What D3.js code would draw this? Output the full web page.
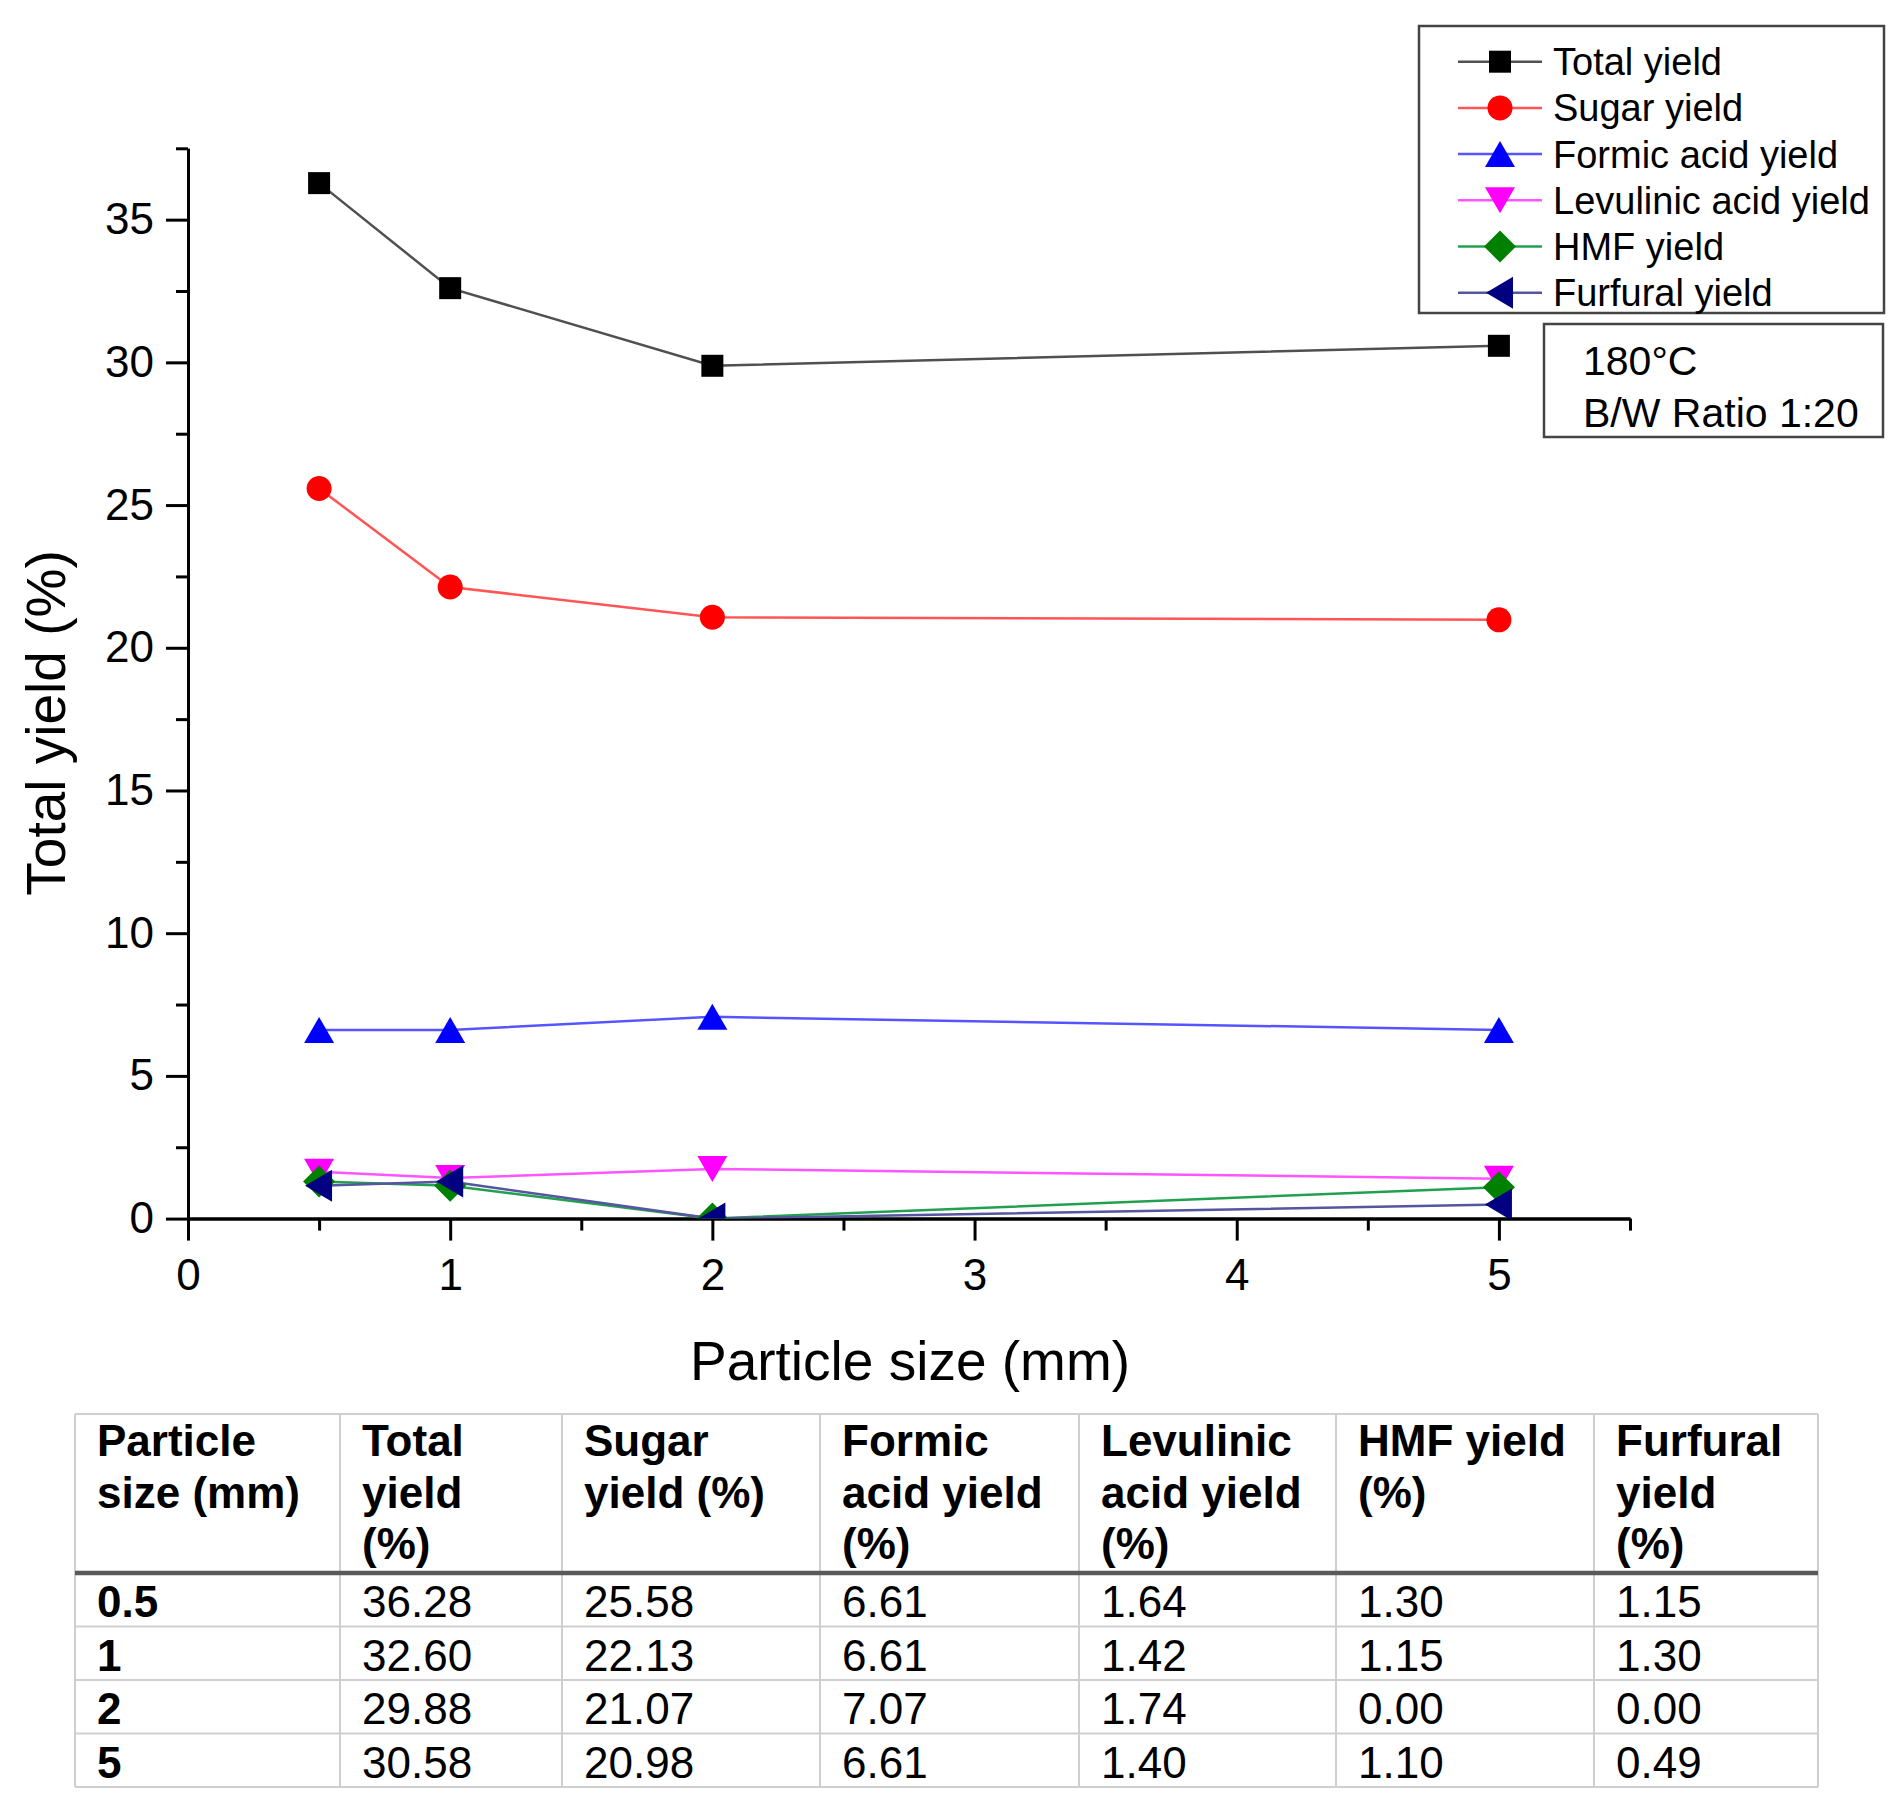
<!DOCTYPE html>
<html><head><meta charset="utf-8">
<script src="https://cdn.jsdelivr.net/npm/d3@7"></script>
<style>
body{margin:0;background:#fff}
svg{display:block}
text{font-family:"Liberation Sans",Arial,Helvetica,sans-serif;fill:#000}
</style>
</head><body>
<svg id="chart" width="1903" height="1816"></svg>
<script>
// ---------------- data ----------------
const particleSizes = [0.5, 1, 2, 5];
const totalYield     = [36.28, 32.60, 29.88, 30.58];
const sugarYield     = [25.58, 22.13, 21.07, 20.98];
const formicYield    = [6.61, 6.61, 7.07, 6.61];
const levulinicYield = [1.64, 1.42, 1.74, 1.40];
const hmfYield       = [1.30, 1.15, 0.00, 1.10];
const furfuralYield  = [1.15, 1.30, 0.00, 0.49];
const seriesNames = ["Total yield", "Sugar yield", "Formic acid yield", "Levulinic acid yield", "HMF yield", "Furfural yield"];
const xTickValues = [0, 1, 2, 3, 4, 5];
const yTickValues = [0, 5, 10, 15, 20, 25, 30, 35];
const xTitle = "Particle size (mm)";
const yTitle = "Total yield (%)";
const infoLines = ["180°C", "B/W Ratio 1:20"];
const tableHeaders = [
  ["Particle", "size (mm)"],
  ["Total", "yield", "(%)"],
  ["Sugar", "yield (%)"],
  ["Formic", "acid yield", "(%)"],
  ["Levulinic", "acid yield", "(%)"],
  ["HMF yield", "(%)"],
  ["Furfural", "yield", "(%)"]
];

// ---------------- styles ----------------
const seriesValues = [totalYield, sugarYield, formicYield, levulinicYield, hmfYield, furfuralYield];
const markerColors = ["#000000", "#ff0000", "#0000ff", "#ff00ff", "#008000", "#000080"];
const lineColors   = ["#505050", "#ff5555", "#5555ff", "#ff55ff", "#22a050", "#5555a0"];
const shapes = ["square", "circle", "up", "down", "diamond", "left"];

function shapePath(s) {
  switch (s) {
    case "square": return "M-11,-11H11V11H-11Z";
    case "circle": return d3.arc()({innerRadius:0, outerRadius:12.5, startAngle:0, endAngle:2*Math.PI});
    case "up": return "M0,-13L15,13L-15,13Z";
    case "down": return "M0,13L15,-13L-15,-13Z";
    case "diamond": return "M0,-16L16,0L0,16L-16,0Z";
    case "left": return "M-14,0L13,-16L13,16Z";
  }
}

const svg = d3.select("#chart");
const font = '"Liberation Sans",Arial,sans-serif';

// ---------------- scales ----------------
const x = d3.scaleLinear().domain([0, 5.5]).range([188, 1630]);
const y = d3.scaleLinear().domain([0, 37.5]).range([1218.6, 148.3]);

// clip
svg.append("defs").append("clipPath").attr("id", "plotclip")
  .append("rect").attr("x", x(0) - 40).attr("y", y(37.5) - 40)
  .attr("width", x(5.5) - x(0) + 80).attr("height", y(0) - y(37.5) + 40);

// ---------------- axes ----------------
const minorX = d3.range(0.5, 5.6, 1);
const minorY = d3.range(2.5, 37.6, 5);

const xMinorAxis = d3.axisBottom(x).tickValues(minorX).tickSize(12).tickSizeOuter(0).tickFormat("");
const xAxis = d3.axisBottom(x).tickValues(xTickValues).tickSize(22).tickSizeOuter(0).tickPadding(18).tickFormat(d3.format("d"));
const yMinorAxis = d3.axisLeft(y).tickValues(minorY).tickSize(12).tickSizeOuter(0).tickFormat("");
const yAxis = d3.axisLeft(y).tickValues(yTickValues).tickSize(22).tickSizeOuter(0).tickPadding(12).tickFormat(d3.format("d"));

function styleAxis(g) {
  g.selectAll("path.domain").attr("stroke", "#000").attr("stroke-width", 3);
  g.selectAll(".tick line").attr("stroke", "#000").attr("stroke-width", 3);
  g.selectAll(".tick text").attr("font-size", 44).attr("font-family", font).attr("fill", "#000");
}

svg.append("g").attr("transform", `translate(0,${y(0)})`).call(xMinorAxis).call(styleAxis);
svg.append("g").attr("transform", `translate(0,${y(0)})`).call(xAxis).call(styleAxis);
svg.append("g").attr("transform", `translate(${x(0)},0)`).call(yMinorAxis).call(styleAxis);
svg.append("g").attr("transform", `translate(${x(0)},0)`).call(yAxis).call(styleAxis);

// axis titles
svg.append("text").attr("x", 910).attr("y", 1380).attr("text-anchor", "middle")
  .attr("font-size", 55).text(xTitle);
svg.append("text").attr("transform", "translate(65,723) rotate(-90)").attr("text-anchor", "middle")
  .attr("font-size", 55).text(yTitle);

// ---------------- series ----------------
const plot = svg.append("g").attr("clip-path", "url(#plotclip)");
const line = d3.line().x((d, i) => x(particleSizes[i])).y(d => y(d));

seriesValues.forEach((vals, si) => {
  plot.append("path").datum(vals).attr("d", line)
    .attr("fill", "none").attr("stroke", lineColors[si]).attr("stroke-width", 2.5);
});
svg.select("defs").append("clipPath").attr("id", "markclip")
  .append("rect").attr("x", 0).attr("y", 0).attr("width", 1903).attr("height", y(0));
const clipMarkers = svg.append("g").attr("clip-path", "url(#markclip)");
seriesValues.forEach((vals, si) => {
  clipMarkers.selectAll(null).data(vals).enter().append("path")
    .attr("d", shapePath(shapes[si]))
    .attr("transform", (d, i) => `translate(${x(particleSizes[i])},${y(d)})`)
    .attr("fill", markerColors[si]);
});

// ---------------- legend ----------------
const legend = svg.append("g");
legend.append("rect").attr("x", 1419).attr("y", 26).attr("width", 465).attr("height", 287)
  .attr("fill", "#fff").attr("stroke", "#444").attr("stroke-width", 2.5);
seriesNames.forEach((name, i) => {
  const cy = 61.7 + i * 46.2;
  legend.append("line").attr("x1", 1458).attr("x2", 1542).attr("y1", cy).attr("y2", cy)
    .attr("stroke", lineColors[i]).attr("stroke-width", 2.5);
  legend.append("path").attr("d", shapePath(shapes[i])).attr("transform", `translate(1500,${cy})`)
    .attr("fill", markerColors[i]);
  legend.append("text").attr("x", 1553).attr("y", cy + 13.5).attr("font-size", 38).text(name);
});

// info box
svg.append("rect").attr("x", 1544).attr("y", 324).attr("width", 339).attr("height", 113)
  .attr("fill", "#fff").attr("stroke", "#444").attr("stroke-width", 2.5);
infoLines.forEach((t, i) => {
  svg.append("text").attr("x", 1583).attr("y", 375 + i * 52).attr("font-size", 41).text(t);
});

// ---------------- table ----------------
const colEdges = [75, 340, 562, 820, 1079, 1336, 1594, 1818];
const tableTop = 1414, headerBottom = 1573, rowH = 53.5;
const tableRows = particleSizes.map((p, i) => [String(p)].concat(seriesValues.map(v => v[i].toFixed(2))));
const tableBottom = headerBottom + rowH * tableRows.length;
const tbl = svg.append("g");
const gridColor = "#cfcfcf";
colEdges.forEach(cx => {
  tbl.append("line").attr("x1", cx).attr("x2", cx).attr("y1", tableTop).attr("y2", tableBottom)
    .attr("stroke", gridColor).attr("stroke-width", 2);
});
tbl.append("line").attr("x1", colEdges[0]).attr("x2", colEdges[7]).attr("y1", tableTop).attr("y2", tableTop)
  .attr("stroke", gridColor).attr("stroke-width", 2);
tableRows.forEach((r, i) => {
  const yy = headerBottom + rowH * (i + 1);
  tbl.append("line").attr("x1", colEdges[0]).attr("x2", colEdges[7]).attr("y1", yy).attr("y2", yy)
    .attr("stroke", gridColor).attr("stroke-width", 2);
});
tbl.append("line").attr("x1", colEdges[0]).attr("x2", colEdges[7]).attr("y1", headerBottom).attr("y2", headerBottom)
  .attr("stroke", "#5a5a5a").attr("stroke-width", 4.5);

tableHeaders.forEach((lines, ci) => {
  lines.forEach((t, li) => {
    tbl.append("text").attr("x", colEdges[ci] + 22).attr("y", 1456 + li * 51.5)
      .attr("font-size", 44).attr("font-weight", "bold").text(t);
  });
});
tableRows.forEach((r, ri) => {
  r.forEach((t, ci) => {
    tbl.append("text").attr("x", colEdges[ci] + 22).attr("y", headerBottom + rowH * ri + 44)
      .attr("font-size", 44).attr("font-weight", ci === 0 ? "bold" : "normal").text(t);
  });
});
</script>
</body></html>
